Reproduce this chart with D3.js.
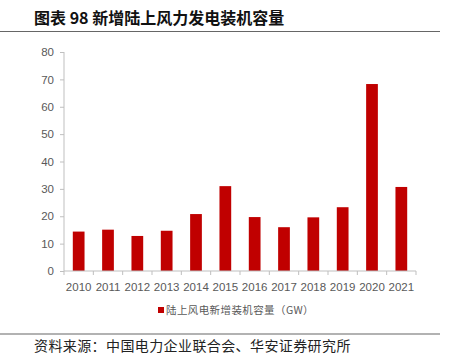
<!DOCTYPE html>
<html><head><meta charset="utf-8">
<script src="https://cdn.jsdelivr.net/npm/d3@7"></script>
<style>body{margin:0;background:#fff;}svg{display:block;}</style>
</head><body>
<svg id="c" width="450" height="357"></svg>
<script>
const years = ["2010","2011","2012","2013","2014","2015","2016","2017","2018","2019","2020","2021"];
const capacity = [14.4,15.1,12.8,14.7,20.8,31.0,19.7,16.0,19.6,23.3,68.3,30.7];
const yTicks = [0,10,20,30,40,50,60,70,80];
const titleText = "图表 98 新增陆上风力发电装机容量";
const legendText = "陆上风电新增装机容量（GW）";
const sourceText = "资料来源：中国电力企业联合会、华安证券研究所";

const svg = d3.select("#c");
const cjk = "'Noto Sans CJK SC', sans-serif";
const lat = "Arial, 'Liberation Sans', sans-serif";

svg.append("text").attr("x",34).attr("y",24).attr("font-family",cjk).attr("font-weight","bold")
  .attr("font-size",16).attr("fill","#111").text(titleText);
svg.append("line").attr("x1",0).attr("x2",440).attr("y1",31.5).attr("y2",31.5).attr("stroke","#666").attr("stroke-width",1.2);

const x = d3.scaleBand().domain(years).range([64,416]).paddingInner(0.6).paddingOuter(0.3);
const y = d3.scaleLinear().domain([0,80]).range([271,52]);

svg.selectAll("rect.bar").data(years).enter().append("rect").attr("class","bar")
  .attr("x",d=>x(d)).attr("width",x.bandwidth())
  .attr("y",(d,i)=>y(capacity[i])).attr("height",(d,i)=>y(0)-y(capacity[i]))
  .attr("fill","#c00000");

const yAxis = svg.append("g").attr("transform","translate(64,0)")
  .call(d3.axisLeft(y).tickValues(yTicks).tickSize(4).tickPadding(6));
const xAxis = svg.append("g").attr("transform","translate(0,271)")
  .call(d3.axisBottom(x).tickSize(0).tickPadding(12));
const x0 = 64;
svg.append("g").selectAll("line").data(d3.range(years.length+1)).enter().append("line")
  .attr("x1",i=>x0+i*(352/years.length)).attr("x2",i=>x0+i*(352/years.length))
  .attr("y1",271).attr("y2",275).attr("stroke","#bfbfbf");
[yAxis,xAxis].forEach(g=>{
  g.selectAll("path,line").attr("stroke","#bfbfbf");
  g.selectAll("text").attr("fill","#595959").attr("font-family",lat).attr("font-size",11.5);
});
xAxis.select("path").attr("d","M64,0H416");
yAxis.select("path").attr("d","M0,52V271");

svg.append("rect").attr("x",158).attr("y",307).attr("width",6).attr("height",6).attr("fill","#c00000");
svg.append("text").attr("x",166).attr("y",314).attr("font-family",cjk).attr("font-size",10.5)
  .attr("letter-spacing",0.4).attr("fill","#595959").text(legendText);

svg.append("line").attr("x1",0).attr("x2",440).attr("y1",334).attr("y2",334).attr("stroke","#666").attr("stroke-width",1.2);
svg.append("text").attr("x",34).attr("y",351).attr("font-family",cjk).attr("font-size",14)
  .attr("letter-spacing",0.4).attr("fill","#222").text(sourceText);
</script>
</body></html>
